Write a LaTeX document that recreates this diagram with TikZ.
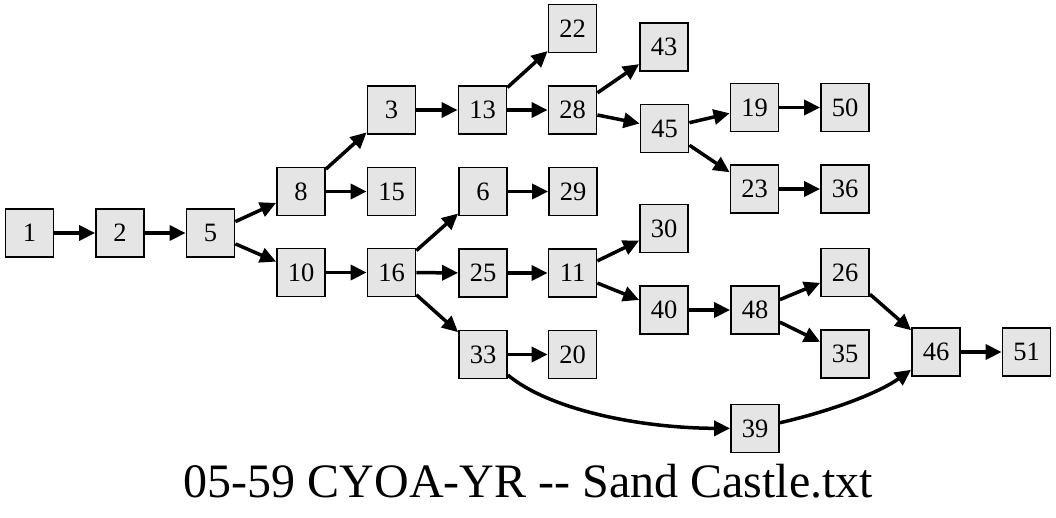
\documentclass[tikz,border=0pt]{standalone}
\usepackage{fontspec}
\setmainfont{Liberation Serif}
\usetikzlibrary{arrows.meta}
\definecolor{nodefill}{HTML}{E5E5E5}
\begin{document}
\begin{tikzpicture}[x=1pt,y=-1pt,
  box/.style={draw, line width=1.8pt, fill=nodefill, minimum width=48pt, minimum height=48pt, inner sep=0pt, font=\fontsize{26.5}{27}\selectfont},
  edge/.style={line width=3.5pt, -{Triangle[length=16pt,width=15pt]}},
  title/.style={font=\fontsize{48}{50}\selectfont, anchor=base}]
\useasboundingbox (0,0) rectangle (1056,517);
\node[box] (n1)  at (29.5,233) {1};
\node[box] (n2)  at (120,233) {2};
\node[box] (n5)  at (210.5,233) {5};
\node[box] (n8)  at (301,191.5) {8};
\node[box] (n10) at (301,272.5) {10};
\node[box] (n3)  at (391.5,110) {3};
\node[box] (n15) at (391.5,191.5) {15};
\node[box] (n16) at (391.5,272.5) {16};
\node[box] (n13) at (482.5,110) {13};
\node[box] (n6)  at (483,191.5) {6};
\node[box] (n25) at (483,273) {25};
\node[box] (n33) at (483,354.5) {33};
\node[box] (n22) at (572.5,28.5) {22};
\node[box] (n28) at (572.5,110) {28};
\node[box] (n29) at (573,191.5) {29};
\node[box] (n11) at (572.5,273) {11};
\node[box] (n20) at (572.5,354.5) {20};
\node[box] (n43) at (664,47) {43};
\node[box] (n45) at (664.5,128.5) {45};
\node[box] (n30) at (664,228.5) {30};
\node[box] (n40) at (664,310) {40};
\node[box] (n19) at (754.5,107.5) {19};
\node[box] (n23) at (754.5,189) {23};
\node[box] (n48) at (755,310) {48};
\node[box] (n39) at (755,428.5) {39};
\node[box] (n50) at (845,107.5) {50};
\node[box] (n36) at (845,189) {36};
\node[box] (n26) at (845,272.5) {26};
\node[box] (n35) at (845,354) {35};
\node[box] (n46) at (936,352) {46};
\node[box] (n51) at (1026.5,352) {51};
\node[title] (t) at (528.5,497.5) {05-59 CYOA-YR -{}- Sand Castle.txt};
\draw[edge] (n1) -- (n2);
\draw[edge] (n2) -- (n5);
\draw[edge] (n5) -- (n8);
\draw[edge] (n5) -- (n10);
\draw[edge] (n8) -- (n3);
\draw[edge] (n8) -- (n15);
\draw[edge] (n10) -- (n16);
\draw[edge] (n3) -- (n13);
\draw[edge] (n16) -- (n6);
\draw[edge] (n16) -- (n25);
\draw[edge] (n16) -- (n33);
\draw[edge] (n13) -- (n22);
\draw[edge] (n13) -- (n28);
\draw[edge] (n6) -- (n29);
\draw[edge] (n25) -- (n11);
\draw[edge] (n33) -- (n20);
\draw[edge] (n33) .. controls (550,410) and (640,428) .. (n39);
\draw[edge] (n28) -- (n43);
\draw[edge] (n28) -- (n45);
\draw[edge] (n11) -- (n30);
\draw[edge] (n11) -- (n40);
\draw[edge] (n45) -- (n19);
\draw[edge] (n45) -- (n23);
\draw[edge] (n40) -- (n48);
\draw[edge] (n19) -- (n50);
\draw[edge] (n23) -- (n36);
\draw[edge] (n48) -- (n26);
\draw[edge] (n48) -- (n35);
\draw[edge] (n26) -- (n46);
\draw[edge] (n39) .. controls (835,410) and (880,392) .. (n46);
\draw[edge] (n46) -- (n51);
\end{tikzpicture}
\end{document}
